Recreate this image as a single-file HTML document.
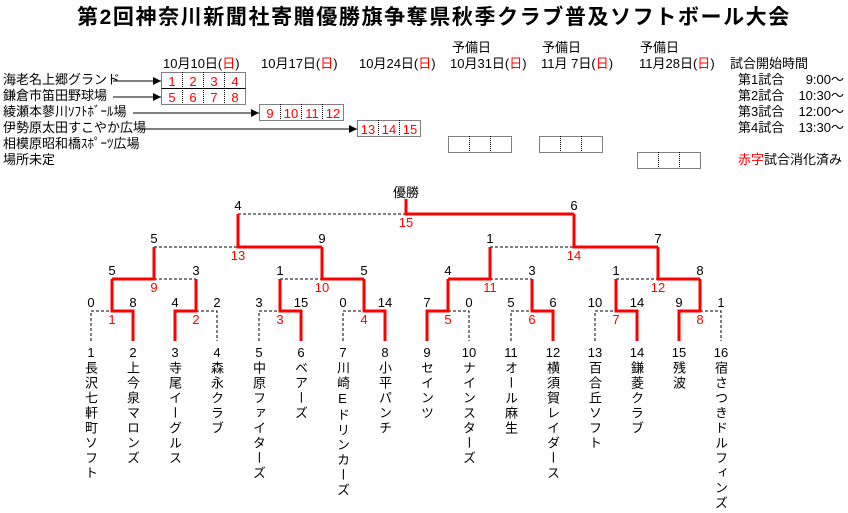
<!DOCTYPE html>
<html><head><meta charset="utf-8"><style>
body{margin:0;width:848px;height:513px;background:#fff;position:relative;overflow:hidden;font-family:"Liberation Sans","Noto Sans CJK JP",sans-serif;color:#000}
.a{position:absolute;white-space:nowrap;font-size:13px;line-height:16px}
.r{color:#f00}
.nm{position:absolute;top:361px;width:15px;writing-mode:vertical-rl;font-size:13px;letter-spacing:2px;line-height:15px;text-orientation:upright}
svg{position:absolute;left:0;top:0}
</style></head><body>
<div class="a" style="left:77px;top:5px;font-size:21px;line-height:26px;letter-spacing:1.6px;font-weight:bold">第2回神奈川新聞社寄贈優勝旗争奪県秋季クラブ普及ソフトボール大会</div>

<div class="a" style="left:163px;top:56px">10月10日(<span class="r">日</span>)</div>
<div class="a" style="left:261px;top:56px">10月17日(<span class="r">日</span>)</div>
<div class="a" style="left:359px;top:56px">10月24日(<span class="r">日</span>)</div>
<div class="a" style="left:452px;top:40px">予備日</div>
<div class="a" style="left:450px;top:56px">10月31日(<span class="r">日</span>)</div>
<div class="a" style="left:542px;top:40px">予備日</div>
<div class="a" style="left:541px;top:56px">11月 7日(<span class="r">日</span>)</div>
<div class="a" style="left:640px;top:40px">予備日</div>
<div class="a" style="left:639px;top:56px">11月28日(<span class="r">日</span>)</div>
<div class="a" style="left:730px;top:56px">試合開始時間</div>
<div class="a" style="left:738px;top:72px">第1試合</div><div class="a" style="left:798px;top:72px;width:46px;text-align:right">9:00～</div>
<div class="a" style="left:738px;top:88px">第2試合</div><div class="a" style="left:798px;top:88px;width:46px;text-align:right">10:30～</div>
<div class="a" style="left:738px;top:104px">第3試合</div><div class="a" style="left:798px;top:104px;width:46px;text-align:right">12:00～</div>
<div class="a" style="left:738px;top:120px">第4試合</div><div class="a" style="left:798px;top:120px;width:46px;text-align:right">13:30～</div>
<div class="a" style="left:738px;top:152px"><span class="r">赤字</span>試合消化済み</div>

<div class="a" style="left:3px;top:72px">海老名上郷グランド</div>
<div class="a" style="left:3px;top:88px">鎌倉市笛田野球場</div>
<div class="a" style="left:3px;top:104px">綾瀬本蓼川ｿﾌﾄﾎﾞｰﾙ場</div>
<div class="a" style="left:3px;top:120px">伊勢原太田すこやか広場</div>
<div class="a" style="left:3px;top:136px">相模原昭和橋ｽﾎﾟｰﾂ広場</div>
<div class="a" style="left:3px;top:152px">場所未定</div>

<svg width="848" height="513" xmlns="http://www.w3.org/2000/svg" font-family="Liberation Sans, Noto Sans CJK JP, sans-serif" font-size="13">
<defs><marker id="ar" markerWidth="8" markerHeight="8" refX="8" refY="4" orient="auto" markerUnits="userSpaceOnUse"><path d="M0,0L8,4L0,8z" fill="#000"/></marker></defs>
<g stroke="#000" stroke-width="1">
<line x1="113" y1="81" x2="161" y2="81" marker-end="url(#ar)"/>
<line x1="113" y1="97" x2="161" y2="97" marker-end="url(#ar)"/>
<line x1="133" y1="113" x2="259" y2="113" marker-end="url(#ar)"/>
<line x1="140" y1="129" x2="357" y2="129" marker-end="url(#ar)"/>
</g>
<g fill="none" stroke="#000" stroke-width="1" stroke-dasharray="1,1">
<rect x="161.5" y="72.5" width="84" height="16"/><line x1="182.5" y1="72" x2="182.5" y2="104"/><line x1="203.5" y1="72" x2="203.5" y2="104"/><line x1="224.5" y1="72" x2="224.5" y2="104"/>
<rect x="161.5" y="88.5" width="84" height="16"/>
<rect x="259.5" y="104.5" width="84" height="16"/><line x1="280.5" y1="104" x2="280.5" y2="120"/><line x1="301.5" y1="104" x2="301.5" y2="120"/><line x1="322.5" y1="104" x2="322.5" y2="120"/>
<rect x="357.5" y="120.5" width="63" height="16"/><line x1="378.5" y1="120" x2="378.5" y2="136"/><line x1="399.5" y1="120" x2="399.5" y2="136"/>
<rect x="448.5" y="136.5" width="63" height="16"/><line x1="469.5" y1="136" x2="469.5" y2="152"/><line x1="490.5" y1="136" x2="490.5" y2="152"/>
<rect x="539.5" y="136.5" width="63" height="16"/><line x1="560.5" y1="136" x2="560.5" y2="152"/><line x1="581.5" y1="136" x2="581.5" y2="152"/>
<rect x="637.5" y="152.5" width="63" height="16"/><line x1="658.5" y1="152" x2="658.5" y2="168"/><line x1="679.5" y1="152" x2="679.5" y2="168"/>
</g>
<g fill="#f00" text-anchor="middle">
<text x="172" y="86">1</text><text x="193" y="86">2</text><text x="214" y="86">3</text><text x="235" y="86">4</text>
<text x="172" y="102">5</text><text x="193" y="102">6</text><text x="214" y="102">7</text><text x="235" y="102">8</text>
<text x="270" y="118">9</text><text x="291" y="118">10</text><text x="312" y="118">11</text><text x="333" y="118">12</text>
<text x="368" y="134">13</text><text x="389" y="134">14</text><text x="410" y="134">15</text>
</g>

<g fill="none" stroke="#000" stroke-width="1" stroke-dasharray="3,2">
<path d="M91,341V311H112"/><path d="M196,311H217V341"/><path d="M259,341V311H280"/><path d="M343,341V311H364"/>
<path d="M448,311H469V341"/><path d="M511,341V311H532"/><path d="M595,341V311H616"/><path d="M700,311H721V341"/>
<path d="M154,279H196"/><path d="M280,279H322"/><path d="M490,279H532"/><path d="M616,279H658"/>
<path d="M154,247H238"/><path d="M490,247H574"/><path d="M238,214H406"/>
</g>
<g fill="none" stroke="#f00" stroke-width="3">
<path d="M112,279V311H133V341"/><path d="M175,341V311H196V279"/><path d="M280,279V311H301V341"/><path d="M364,279V311H385V341"/>
<path d="M427,341V311H448V279"/><path d="M532,279V311H553V341"/><path d="M616,279V311H637V341"/><path d="M679,341V311H700V279"/>
<path d="M112,279H154V247"/><path d="M322,247V279H364"/><path d="M448,279H490V247"/><path d="M658,247V279H700"/>
<path d="M238,214V247H322"/><path d="M574,214V247H658"/>
<path d="M406,199V214H574"/>
</g>
<g text-anchor="middle" fill="#000">
<text x="406" y="197">優勝</text>
<text x="91" y="307">0</text><text x="133" y="307">8</text><text x="175" y="307">4</text><text x="217" y="307">2</text>
<text x="259" y="307">3</text><text x="301" y="307">15</text><text x="343" y="307">0</text><text x="385" y="307">14</text>
<text x="427" y="307">7</text><text x="469" y="307">0</text><text x="511" y="307">5</text><text x="553" y="307">6</text>
<text x="595" y="307">10</text><text x="637" y="307">14</text><text x="679" y="307">9</text><text x="721" y="307">1</text>
<text x="112" y="275">5</text><text x="196" y="275">3</text><text x="280" y="275">1</text><text x="364" y="275">5</text>
<text x="448" y="275">4</text><text x="532" y="275">3</text><text x="616" y="275">1</text><text x="700" y="275">8</text>
<text x="154" y="243">5</text><text x="322" y="243">9</text><text x="490" y="243">1</text><text x="658" y="243">7</text>
<text x="238" y="210">4</text><text x="574" y="210">6</text>
<text x="91" y="357">1</text><text x="133" y="357">2</text><text x="175" y="357">3</text><text x="217" y="357">4</text>
<text x="259" y="357">5</text><text x="301" y="357">6</text><text x="343" y="357">7</text><text x="385" y="357">8</text>
<text x="427" y="357">9</text><text x="469" y="357">10</text><text x="511" y="357">11</text><text x="553" y="357">12</text>
<text x="595" y="357">13</text><text x="637" y="357">14</text><text x="679" y="357">15</text><text x="721" y="357">16</text>
</g>
<g text-anchor="middle" fill="#f00">
<text x="112" y="324">1</text><text x="196" y="324">2</text><text x="280" y="324">3</text><text x="364" y="324">4</text>
<text x="448" y="324">5</text><text x="532" y="324">6</text><text x="616" y="324">7</text><text x="700" y="324">8</text>
<text x="154" y="292">9</text><text x="322" y="292">10</text><text x="490" y="292">11</text><text x="658" y="292">12</text>
<text x="238" y="260">13</text><text x="574" y="260">14</text><text x="406" y="227">15</text>
</g>
</svg>

<div class="nm" style="left:83px">長沢七軒町ソフト</div>
<div class="nm" style="left:125px">上今泉マロンズ</div>
<div class="nm" style="left:167px">寺尾イーグルス</div>
<div class="nm" style="left:209px">森永クラブ</div>
<div class="nm" style="left:251px">中原ファイターズ</div>
<div class="nm" style="left:293px">ベアーズ</div>
<div class="nm" style="left:335px">川崎Eドリンカーズ</div>
<div class="nm" style="left:377px">小平パンチ</div>
<div class="nm" style="left:419px">セインツ</div>
<div class="nm" style="left:461px">ナインスターズ</div>
<div class="nm" style="left:503px">オール麻生</div>
<div class="nm" style="left:545px">横須賀レイダース</div>
<div class="nm" style="left:587px">百合丘ソフト</div>
<div class="nm" style="left:629px">鎌菱クラブ</div>
<div class="nm" style="left:671px">残波</div>
<div class="nm" style="left:713px">宿さつきドルフィンズ</div>
</body></html>
